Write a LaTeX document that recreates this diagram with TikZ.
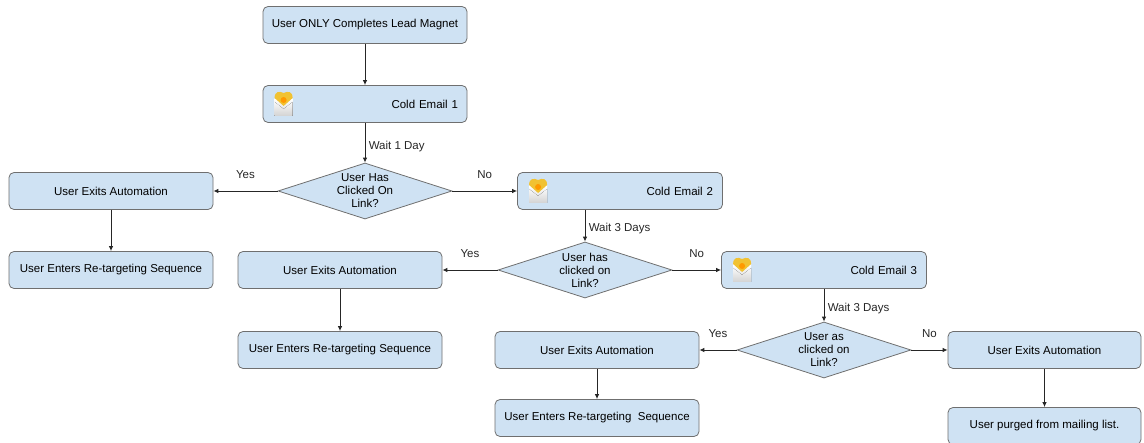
\documentclass[tikz,border=0pt]{standalone}
\usepackage{fontspec}
\setmainfont{Liberation Sans}
\usetikzlibrary{shapes.geometric,arrows.meta}
\definecolor{boxblue}{HTML}{CFE2F3}
\definecolor{boxline}{HTML}{6F6F6F}
\definecolor{flapgold}{HTML}{F1C232}

% small envelope drawn left inside a mail box
\newcommand{\mailicon}[1]{%
  \begin{scope}[shift={(#1.west)},xshift=21pt]
    \fill[top color=white,bottom color=gray!35] (-9,-5) rectangle (9,12);
    \fill[flapgold] (-9,-6) .. controls (-9,-13) and (-4,-13) .. (0,-11)
      .. controls (4,-13) and (9,-13) .. (9,-6) -- (0,2) -- cycle;
    \fill[orange!80!yellow] (0,-4) circle (3);
    \fill[top color=gray!5,bottom color=gray!35] (-9,-2) -- (0,5) -- (9,-2)
      -- (9,12) -- (-9,12) -- cycle;
  \end{scope}}

\begin{document}
\begin{tikzpicture}
  [x=1pt,y=-1pt,
   every node/.style={font=\fontsize{11.5}{13}\selectfont},
   box/.style={draw=boxline,fill=boxblue,rounded corners=5pt,line width=.8pt,
     minimum width=204pt,minimum height=37pt},
   mailbox/.style={box,text width=186pt,inner xsep=9pt,align=right},
   dia/.style={diamond,draw=boxline,fill=boxblue,line width=.8pt,inner sep=0pt,
     minimum width=174pt,minimum height=56pt},
   diatext/.style={align=center},
   lbl/.style={fill=none,text=black!85},
   arr/.style={draw=black!85,line width=.9pt,-{Latex[length=5pt,width=4.5pt]}}]
  \useasboundingbox (0,0) rectangle (1144,443);

  \node[box] (lead) at (365,25) {User ONLY Completes Lead Magnet};
  \node[mailbox] (email1) at (365,104) {Cold Email 1};
  \node[dia] (dec1) at (365,191) {};
  \node[diatext] at (dec1) {User Has\\Clicked On\\Link?};
  \node[box] (exit1) at (111,191) {User Exits Automation};
  \node[box] (ret1) at (111,270) {User Enters Re-targeting Sequence};

  \node[mailbox,minimum width=205pt] (email2) at (620,191) {Cold Email 2};
  \node[dia] (dec2) at (585,270) {};
  \node[diatext] at (dec2) {User has\\clicked on\\Link?};
  \node[box] (exit2) at (340,270) {User Exits Automation};
  \node[box] (ret2) at (340,350) {User Enters Re-targeting Sequence};

  \node[mailbox,minimum width=205pt] (email3) at (824,270) {Cold Email 3};
  \node[dia] (dec3) at (824,350) {};
  \node[diatext] at (dec3) {User as\\clicked on\\Link?};
  \node[box] (exit3) at (597,350) {User Exits Automation};
  \node[box] (ret3) at (597,418) {User Enters Re-targeting\ \ Sequence};
  \node[box,minimum width=193pt] (exit4) at (1044.5,350) {User Exits Automation};
  \node[box,minimum width=193pt] (purge) at (1044.5,426) {User purged from mailing list.};

  \foreach \m in {email1,email2,email3}
    \mailicon{\m};

  \foreach \from/\to in {lead/email1,exit1/ret1,exit2/ret2,exit3/ret3,exit4/purge}
    \draw[arr] (\from) -- (\to);

  \draw[arr] (email1) -- node[lbl,right,pos=.6] {Wait 1 Day} (dec1);
  \draw[arr] (dec2.north |- email2.south) -- node[lbl,right,pos=.6] {Wait 3 Days} (dec2.north);
  \draw[arr] (email3) -- node[lbl,right,pos=.6] {Wait 3 Days} (dec3);

  \foreach \d/\yes/\no in {dec1/exit1/email2,dec2/exit2/email3,dec3/exit3/exit4} {
    \draw[arr] (\d.west) -- node[lbl,above=9pt] {Yes} (\yes.east);
    \draw[arr] (\d.east) -- node[lbl,above=9pt] {No} (\no.west);
  }

\end{tikzpicture}
\end{document}
